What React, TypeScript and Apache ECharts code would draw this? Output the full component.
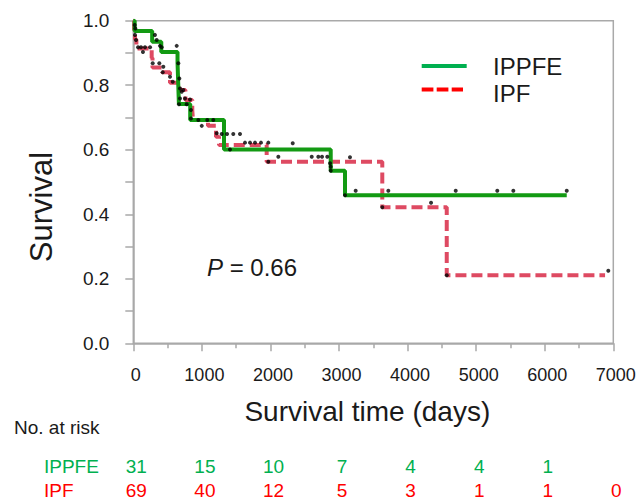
import React, { useEffect, useRef } from "react";
import * as echarts from "echarts";

const FONT = "'Liberation Sans', Arial, Helvetica, sans-serif";

const xTicks = [0, 1000, 2000, 3000, 4000, 5000, 6000, 7000];

// Kaplan–Meier steps: [days, survival after step]
const ippfeSteps: [number, number][] = [
  [0, 1.0], [20, 0.968], [275, 0.935], [408, 0.903], [645, 0.871], [655, 0.806],
  [665, 0.742], [830, 0.692], [1323, 0.601], [2879, 0.535], [3087, 0.459], [6321, 0.459],
];

const ipfSteps: [number, number][] = [
  [0, 1.0], [12, 0.971], [25, 0.942], [45, 0.914], [268, 0.884], [280, 0.855],
  [420, 0.84], [535, 0.808], [671, 0.785], [760, 0.754], [860, 0.723], [870, 0.692],
  [1089, 0.674], [1206, 0.64], [1250, 0.615], [1945, 0.563], [3631, 0.422],
  [4571, 0.211], [6880, 0.211],
];

// censored observations (black dots)
const censored: [number, number][] = [
  [20, 0.987], [29, 0.976], [25, 0.956], [39, 0.94], [69, 0.918], [112, 0.918], [171, 0.918],
  [141, 0.903], [244, 0.918], [316, 0.956], [341, 0.94], [389, 0.922], [414, 0.918],
  [283, 0.868], [379, 0.868], [438, 0.857], [429, 0.84], [535, 0.826], [575, 0.811],
  [633, 0.922], [656, 0.868], [671, 0.821], [681, 0.79], [706, 0.78], [729, 0.785],
  [681, 0.759], [754, 0.759], [827, 0.756], [666, 0.741], [779, 0.741], [841, 0.723],
  [841, 0.697], [948, 0.692], [1079, 0.692], [1167, 0.692], [998, 0.674], [1216, 0.651],
  [1289, 0.649], [1367, 0.649], [1458, 0.649], [1556, 0.649], [1410, 0.601], [1629, 0.622],
  [1702, 0.622], [1775, 0.622], [1862, 0.622], [1969, 0.622], [1969, 0.563], [2115, 0.578],
  [2325, 0.62], [2602, 0.578], [2698, 0.578], [2752, 0.578], [2829, 0.578], [2869, 0.558],
  [2879, 0.547], [2879, 0.535], [3087, 0.459], [3160, 0.577], [3243, 0.473], [3631, 0.422],
  [3719, 0.473], [4342, 0.436], [4571, 0.211], [4702, 0.473], [5308, 0.473], [5542, 0.473],
  [6321, 0.473], [6927, 0.225],
];

const riskGroups = ["IPPFE", "IPF"];
const riskIPPFE = [31, 15, 10, 7, 4, 4, 1];
const riskIPF = [69, 40, 12, 5, 3, 1, 1, 0];

const GREEN_LINE = "#139a13";
const RED_LINE = "#de4a62";
const GREEN_TXT = "#00b050";
const RED_TXT = "#ff0000";
const AXIS_GRAY = "#a9a9a9";
const TXT = "#1a1a1a";

export default function App() {
  const ref = useRef<HTMLDivElement>(null);

  useEffect(() => {
    if (!ref.current) return;
    const chart = echarts.init(ref.current, undefined, { renderer: "svg" });

    chart.setOption({
      animation: false,
      backgroundColor: "#ffffff",
      grid: {
        left: 133.3,
        right: 25.7,
        top: 20.7,
        bottom: 159.7,
        show: true,
        borderColor: AXIS_GRAY,
        borderWidth: 1.5,
      },
      xAxis: {
        type: "value",
        min: 0,
        max: 7000,
        interval: 1000,
        name: "Survival time (days)",
        nameLocation: "middle",
        nameGap: 54,
        nameTextStyle: { fontFamily: FONT, fontSize: 28, color: TXT, padding: [0, 12, 0, 0] },
        axisLine: { show: true, lineStyle: { color: AXIS_GRAY, width: 1.5 } },
        axisTick: { show: true, inside: false, length: 8, lineStyle: { color: AXIS_GRAY, width: 1.5 } },
        minorTick: { show: true, splitNumber: 2, length: 5, lineStyle: { color: AXIS_GRAY, width: 1.5 } },
        splitLine: { show: false },
        axisLabel: {
          fontFamily: FONT,
          fontSize: 18,
          color: TXT,
          margin: 23,
          padding: [0, 0, 0, 5],
          showMaxLabel: true,
          formatter: (v: number) => String(v),
        },
      },
      yAxis: {
        type: "value",
        min: 0,
        max: 1,
        interval: 0.2,
        axisLine: { show: true, lineStyle: { color: AXIS_GRAY, width: 1.5 } },
        axisTick: { show: true, inside: false, length: 8, lineStyle: { color: AXIS_GRAY, width: 1.5 } },
        minorTick: { show: true, splitNumber: 2, length: 8, lineStyle: { color: AXIS_GRAY, width: 1.5 } },
        splitLine: { show: false },
        axisLabel: {
          fontFamily: FONT,
          fontSize: 19,
          color: TXT,
          margin: 24,
          formatter: (v: number) => v.toFixed(1),
        },
      },
      series: [
        {
          name: "IPF",
          type: "line",
          step: "end",
          data: ipfSteps,
          showSymbol: false,
          symbol: "none",
          lineStyle: { color: RED_LINE, width: 4, type: [11, 5] },
          z: 2,
        },
        {
          name: "IPPFE",
          type: "line",
          step: "end",
          data: ippfeSteps,
          showSymbol: false,
          symbol: "none",
          lineStyle: { color: GREEN_LINE, width: 4 },
          z: 3,
        },
        {
          name: "censored",
          type: "scatter",
          data: censored,
          symbol: "circle",
          symbolSize: 4,
          itemStyle: { color: "#000000" },
          z: 5,
        },
      ],
    });

    const px = (t: number) => chart.convertToPixel({ xAxisIndex: 0 }, t) as number;
    const textStyle = (text: string, size: number, fill: string, align = "center") => ({
      text,
      fill,
      font: `${size}px ${FONT}`,
      align,
      verticalAlign: "middle",
    });

    const graphics: any[] = [
      // y axis name
      {
        type: "text",
        x: 41,
        y: 207,
        rotation: Math.PI / 2,
        style: textStyle("Survival", 31, TXT),
      },
      // legend
      {
        type: "line",
        shape: { x1: 421.7, y1: 66, x2: 466.7, y2: 66 },
        style: { stroke: GREEN_TXT, lineWidth: 4 },
      },
      {
        type: "line",
        shape: { x1: 421.7, y1: 89.5, x2: 463, y2: 89.5 },
        style: { stroke: RED_TXT, lineWidth: 4, lineDash: [11.7, 3.3] },
      },
      { type: "text", x: 493, y: 66, style: textStyle("IPPFE", 24, TXT, "left") },
      { type: "text", x: 493, y: 93, style: textStyle("IPF", 24, TXT, "left") },
      // P value
      {
        type: "text",
        x: 207,
        y: 267,
        style: {
          text: "{i|P} = 0.66",
          font: `24px ${FONT}`,
          fill: TXT,
          align: "left",
          verticalAlign: "middle",
          rich: { i: { fontStyle: "italic", fontSize: 24, fontFamily: FONT, fill: TXT } },
        },
      },
      // risk table
      { type: "text", x: 14, y: 427, style: textStyle("No. at risk", 19, TXT, "left") },
      { type: "text", x: 44, y: 466, style: textStyle(riskGroups[0], 19, GREEN_TXT, "left") },
      { type: "text", x: 44, y: 490, style: textStyle(riskGroups[1], 19, RED_TXT, "left") },
    ];

    riskIPPFE.forEach((n, i) => {
      graphics.push({
        type: "text",
        x: px(xTicks[i]) + 3,
        y: 466,
        style: textStyle(String(n), 19, GREEN_TXT),
      });
    });
    riskIPF.forEach((n, i) => {
      graphics.push({
        type: "text",
        x: px(xTicks[i]) + 3,
        y: 490,
        style: textStyle(String(n), 19, RED_TXT),
      });
    });

    chart.setOption({ graphic: graphics });

    return () => chart.dispose();
  }, []);

  return (
    <div
      ref={ref}
      style={{ position: "fixed", left: 0, top: 0, width: 639, height: 503, background: "#fff" }}
    />
  );
}
